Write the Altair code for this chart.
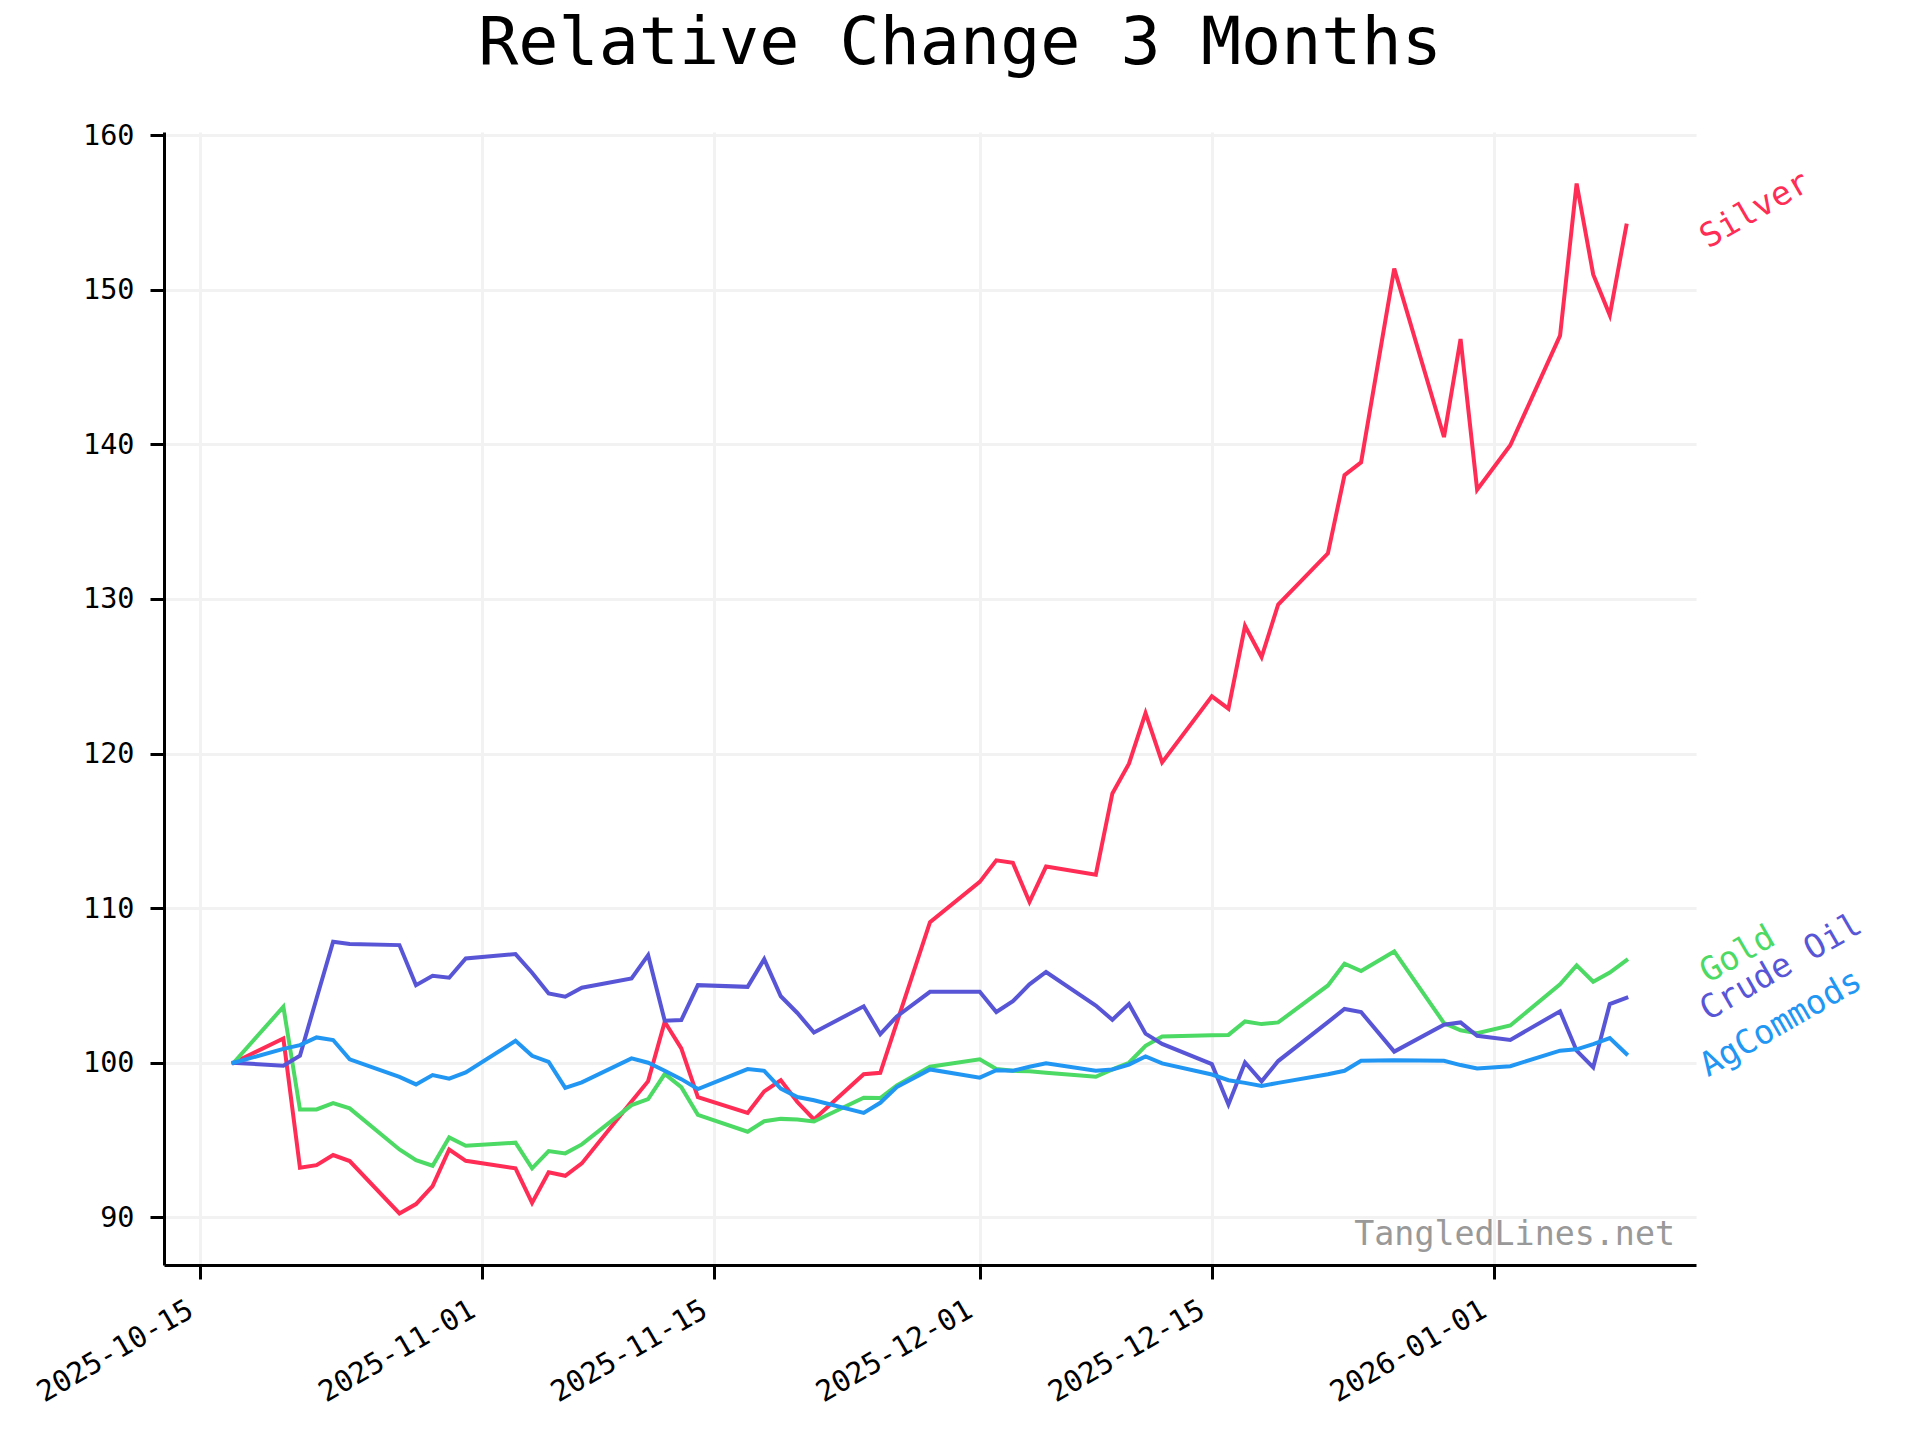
import altair as alt
import pandas as pd

# ---------------- data ----------------
dates = [
    "2025-10-17", "2025-10-20", "2025-10-21", "2025-10-22", "2025-10-23", "2025-10-24",
    "2025-10-27", "2025-10-28", "2025-10-29", "2025-10-30", "2025-10-31",
    "2025-11-03", "2025-11-04", "2025-11-05", "2025-11-06", "2025-11-07",
    "2025-11-10", "2025-11-11", "2025-11-12", "2025-11-13", "2025-11-14",
    "2025-11-17", "2025-11-18", "2025-11-19", "2025-11-20", "2025-11-21",
    "2025-11-24", "2025-11-25", "2025-11-26", "2025-11-28",
    "2025-12-01", "2025-12-02", "2025-12-03", "2025-12-04", "2025-12-05",
    "2025-12-08", "2025-12-09", "2025-12-10", "2025-12-11", "2025-12-12",
    "2025-12-15", "2025-12-16", "2025-12-17", "2025-12-18", "2025-12-19",
    "2025-12-22", "2025-12-23", "2025-12-24", "2025-12-26",
    "2025-12-29", "2025-12-30", "2025-12-31",
    "2026-01-02", "2026-01-05", "2026-01-06", "2026-01-07", "2026-01-08", "2026-01-09",
]

silver = [
    100.0, 101.57, 93.21, 93.38, 94.03, 93.64, 90.25, 90.86, 92.02, 94.39, 93.66,
    93.17, 90.94, 92.91, 92.69, 93.49, 97.5, 98.81, 102.65, 100.93, 97.77,
    96.76, 98.15, 98.87, 97.46, 96.33, 99.26, 99.35, 102.6, 109.09,
    111.70, 113.09, 112.93, 110.4, 112.69, 112.16, 117.42, 119.34, 122.62, 119.43,
    123.70, 122.90, 128.25, 126.24, 129.64, 132.95, 138.0, 138.83, 151.36,
    140.47, 146.81, 137.07,
    139.94, 147.03, 156.87, 150.99, 148.36, 154.15,
]

gold = [
    100.0, 103.62, 96.98, 96.98, 97.39, 97.05, 94.39, 93.70, 93.34, 95.17, 94.63,
    94.83, 93.17, 94.29, 94.14, 94.72, 97.26, 97.65, 99.27, 98.42, 96.63,
    95.54, 96.22, 96.37, 96.33, 96.20, 97.74, 97.72, 98.54, 99.74,
    100.22, 99.59, 99.48, 99.45, 99.35, 99.09, 99.57, 100.0, 101.1, 101.70,
    101.78, 101.80, 102.67, 102.50, 102.61, 105.0, 106.41, 105.93, 107.20,
    102.57, 102.1, 101.91,
    102.41, 105.07, 106.30, 105.24, 105.83, 106.63,
]

crude_oil = [
    100.0, 99.81, 100.45, 104.16, 107.83, 107.68, 107.61, 105.02, 105.63, 105.50, 106.75,
    107.03, 105.82, 104.48, 104.27, 104.85, 105.45, 106.96, 102.72, 102.76, 105.02,
    104.91, 106.70, 104.30, 103.22, 101.96, 103.65, 101.85, 103.0, 104.59,
    104.59, 103.28, 103.98, 105.07, 105.87, 103.70, 102.78, 103.80, 101.88, 101.22,
    99.91, 97.30, 100.02, 98.80, 100.11, 102.63, 103.48, 103.28, 100.72,
    102.46, 102.61, 101.74,
    101.48, 103.33, 100.78, 99.70, 103.80, 104.20,
]

ag_commods = [
    100.0, 100.9, 101.14, 101.64, 101.47, 100.22, 99.09, 98.60, 99.20, 98.97, 99.37,
    101.42, 100.45, 100.06, 98.38, 98.73, 100.28, 100.0, 99.48, 98.94, 98.30,
    99.59, 99.48, 98.33, 97.78, 97.57, 96.76, 97.41, 98.43, 99.57,
    99.04, 99.52, 99.48, 99.74, 99.96, 99.48, 99.57, 99.88, 100.41, 99.96,
    99.24, 98.87, 98.70, 98.50, 98.70, 99.26, 99.48, 100.13, 100.17,
    100.13, 99.85, 99.63,
    99.78, 100.78, 100.87, 101.2, 101.59, 100.57,
]

series_names = ["Silver", "Gold", "Crude Oil", "AgCommods"]
series_values = [silver, gold, crude_oil, ag_commods]
series_colors = ["#ff2d55", "#4cd964", "#5856d6", "#2196f3"]

x_tick_labels = ["2025-10-15", "2025-11-01", "2025-11-15", "2025-12-01", "2025-12-15", "2026-01-01"]
y_ticks = [90, 100, 110, 120, 130, 140, 150, 160]

title_text = "Relative Change 3 Months"
watermark_text = "TangledLines.net"

# ---------------- tables ----------------
rows = []
for name, vals in zip(series_names, series_values):
    for d, v in zip(dates, vals):
        rows.append({"date": d, "value": v, "series": name})
df = pd.DataFrame(rows)

last_df = pd.DataFrame({
    "date": [dates[-1]] * len(series_names),
    "value": [vals[-1] for vals in series_values],
    "series": series_names,
})

def ms(ts):
    return int(pd.Timestamp(ts).value // 10**6)

t0, t1 = pd.Timestamp(dates[0]), pd.Timestamp(dates[-1])
span = t1 - t0
x_domain = [ms(t0 - 0.05 * span), ms(t1 + 0.05 * span)]
x_tick_ms = [ms(t) for t in x_tick_labels]

all_vals = [v for vals in series_values for v in vals]
vmin, vmax = min(all_vals), max(all_vals)
vspan = vmax - vmin
y_domain = [vmin - 0.05 * vspan, vmax + 0.05 * vspan]

FONT = "DejaVu Sans Mono"

x_enc = alt.X(
    "date:T",
    scale=alt.Scale(type="utc", domain=x_domain, nice=False),
    axis=alt.Axis(
        values=x_tick_ms, format="%Y-%m-%d", labelAngle=330,
        labelAlign="right", labelBaseline="top", labelPadding=16,
        labelOffset=-17, labelFontSize=29, title=None,
    ),
)
y_enc = alt.Y(
    "value:Q",
    scale=alt.Scale(domain=y_domain, nice=False, zero=False),
    axis=alt.Axis(values=y_ticks, labelPadding=16, title=None),
)
color_enc = alt.Color(
    "series:N",
    scale=alt.Scale(domain=series_names, range=series_colors),
    legend=None,
)

lines = alt.Chart(df).mark_line(
    strokeWidth=4, strokeJoin="miter", strokeCap="square"
).encode(x=x_enc, y=y_enc, color=color_enc, detail="series:N")

labels = alt.Chart(last_df).mark_text(
    angle=330, align="left", baseline="alphabetic", dx=59, dy=61,
    font=FONT, fontSize=33.3,
).encode(x=x_enc, y=y_enc, color=color_enc, text="series:N")

watermark = alt.Chart(pd.DataFrame({"t": [watermark_text]})).mark_text(
    align="right", baseline="alphabetic", font=FONT, fontSize=33.3, color="#999999",
).encode(x=alt.value(1511), y=alt.value(1113), text="t:N")

chart = alt.layer(lines, labels, watermark).properties(
    width=1532,
    height=1133,
    title=alt.TitleParams(
        title_text, font=FONT, fontSize=66.7, fontWeight="normal", color="black",
        anchor="middle", dx=30, offset=-10, baseline="alphabetic",
    ),
    padding={"left": 156, "top": 124, "right": 210, "bottom": 160},
    autosize=alt.AutoSizeParams(type="none"),
).configure_view(
    stroke=None
).configure_axis(
    domainColor="black", domainWidth=3,
    tickColor="black", tickWidth=3, tickSize=14,
    labelFont=FONT, labelFontSize=28.5, labelColor="black",
    gridColor="#f2f2f2", gridWidth=3,
)

chart.save("out.html", embed_options={"renderer": "svg", "actions": False})
